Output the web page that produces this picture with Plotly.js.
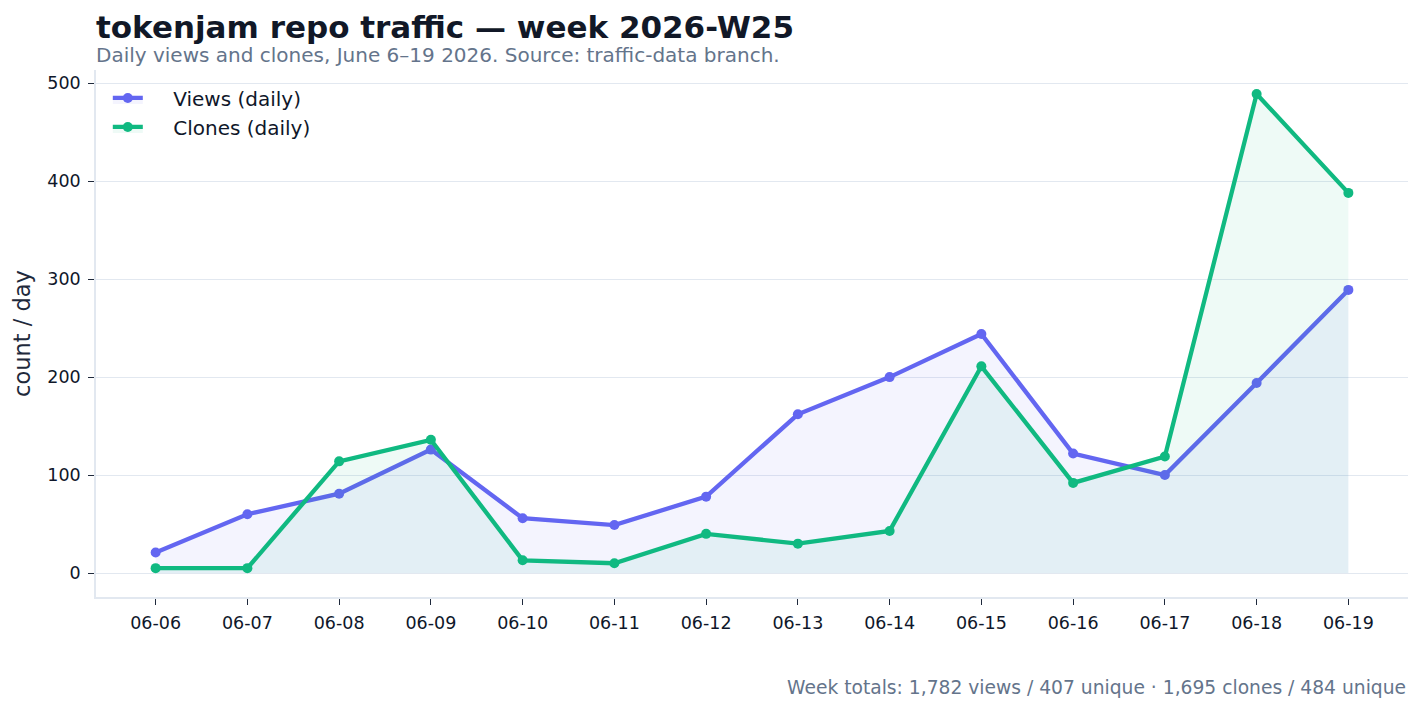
<!DOCTYPE html>
<html>
<head>
<meta charset="utf-8">
<script src="https://cdn.plot.ly/plotly-3.0.1.min.js"></script>
<style>
  html, body { margin: 0; padding: 0; background: #ffffff; }
  #chart { width: 1423px; height: 713px; }
</style>
</head>
<body>
<div id="chart"></div>
<script>
// Daily GitHub traffic for the tokenjam repo, June 6–19 2026
const days = ['06-06', '06-07', '06-08', '06-09', '06-10', '06-11', '06-12',
              '06-13', '06-14', '06-15', '06-16', '06-17', '06-18', '06-19'];
const views = [21, 60, 81, 126, 56, 49, 78, 162, 200, 244, 122, 100, 194, 289];
const clones = [5, 5, 114, 136, 13, 10, 40, 30, 43, 211, 92, 119, 489, 388];

const titleText = 'tokenjam repo traffic — week 2026-W25';
const subtitleText = 'Daily views and clones, June 6–19 2026. Source: traffic-data branch.';
const footerText = 'Week totals: 1,782 views / 407 unique · 1,695 clones / 484 unique';
const yTitle = 'count / day';
const seriesNames = ['Views (daily)', 'Clones (daily)'];

const FONT = 'DejaVu Sans, Verdana, sans-serif';
const INDIGO = '#6366f1';
const GREEN = '#10b981';
const PAD = '\u00a0\u00a0\u00a0\u00a0';   // gap between legend swatch and label

const traces = [
  {
    x: days, y: views, name: PAD + seriesNames[0], type: 'scatter', mode: 'lines+markers',
    line: { color: INDIGO, width: 4.3 },
    marker: { color: INDIGO, size: 10 },
    fill: 'tozeroy', fillcolor: 'rgba(99,102,241,0.07)',
    hoverinfo: 'x+y'
  },
  {
    x: days, y: clones, name: PAD + seriesNames[1], type: 'scatter', mode: 'lines+markers',
    line: { color: GREEN, width: 4.3 },
    marker: { color: GREEN, size: 10 },
    fill: 'tozeroy', fillcolor: 'rgba(16,185,129,0.07)',
    hoverinfo: 'x+y'
  }
];

const n = days.length;
const yMax = Math.max(...views, ...clones);

const layout = {
  width: 1423, height: 713,
  paper_bgcolor: '#ffffff', plot_bgcolor: '#ffffff',
  margin: { l: 96, r: 15, t: 70, b: 116, pad: 0 },
  font: { family: FONT, color: '#0f172a', size: 17 },
  showlegend: true,
  legend: {
    x: 0.009, y: 0.984, xanchor: 'left', yanchor: 'top',
    bgcolor: 'rgba(255,255,255,0)', borderwidth: 0,
    font: { family: FONT, size: 20, color: '#0f172a' },
    itemwidth: 30, tracegroupgap: 2
  },
  title: {
    text: '<b>' + titleText + '</b>',
    x: 96 / 1423, xref: 'container', xanchor: 'left',
    y: 1 - 27 / 713, yref: 'container', yanchor: 'middle',
    font: { family: FONT, size: 31, color: '#111827' }
  },
  xaxis: {
    type: 'category',
    range: [-0.05 * (n - 1), (n - 1) * 1.05],
    showgrid: false, zeroline: false,
    showline: true, linecolor: '#e2e8f0', linewidth: 1.5,
    ticks: 'outside', ticklen: 6, tickwidth: 1.3, tickcolor: '#1e293b',
    ticklabelstandoff: 3,
    tickfont: { family: FONT, size: 17.5, color: '#0f172a' },
    fixedrange: true
  },
  yaxis: {
    range: [-0.05 * yMax, yMax * 1.05],
    tickvals: [0, 100, 200, 300, 400, 500],
    showgrid: true, gridcolor: '#e2e8f0', gridwidth: 1.3,
    zeroline: false,
    showline: true, linecolor: '#e2e8f0', linewidth: 1.5,
    ticks: 'outside', ticklen: 6, tickwidth: 1.3, tickcolor: '#1e293b',
    ticklabelstandoff: 4,
    tickfont: { family: FONT, size: 17.5, color: '#0f172a' },
    title: { text: yTitle, font: { family: FONT, size: 22.5, color: '#1e293b' }, standoff: 10 },
    fixedrange: true
  },
  annotations: [
    {
      text: subtitleText, xref: 'paper', yref: 'paper', x: 0, y: 1,
      xanchor: 'left', yanchor: 'middle', yshift: 15, xshift: -2, showarrow: false,
      font: { family: FONT, size: 20, color: '#64748b' }
    },
    {
      text: footerText, xref: 'paper', yref: 'paper', x: 1, y: 0,
      xanchor: 'right', yanchor: 'middle', yshift: -90, showarrow: false,
      font: { family: FONT, size: 18.7, color: '#64748b' }
    }
  ]
};

Plotly.newPlot('chart', traces, layout, { displayModeBar: false });
</script>
</body>
</html>
